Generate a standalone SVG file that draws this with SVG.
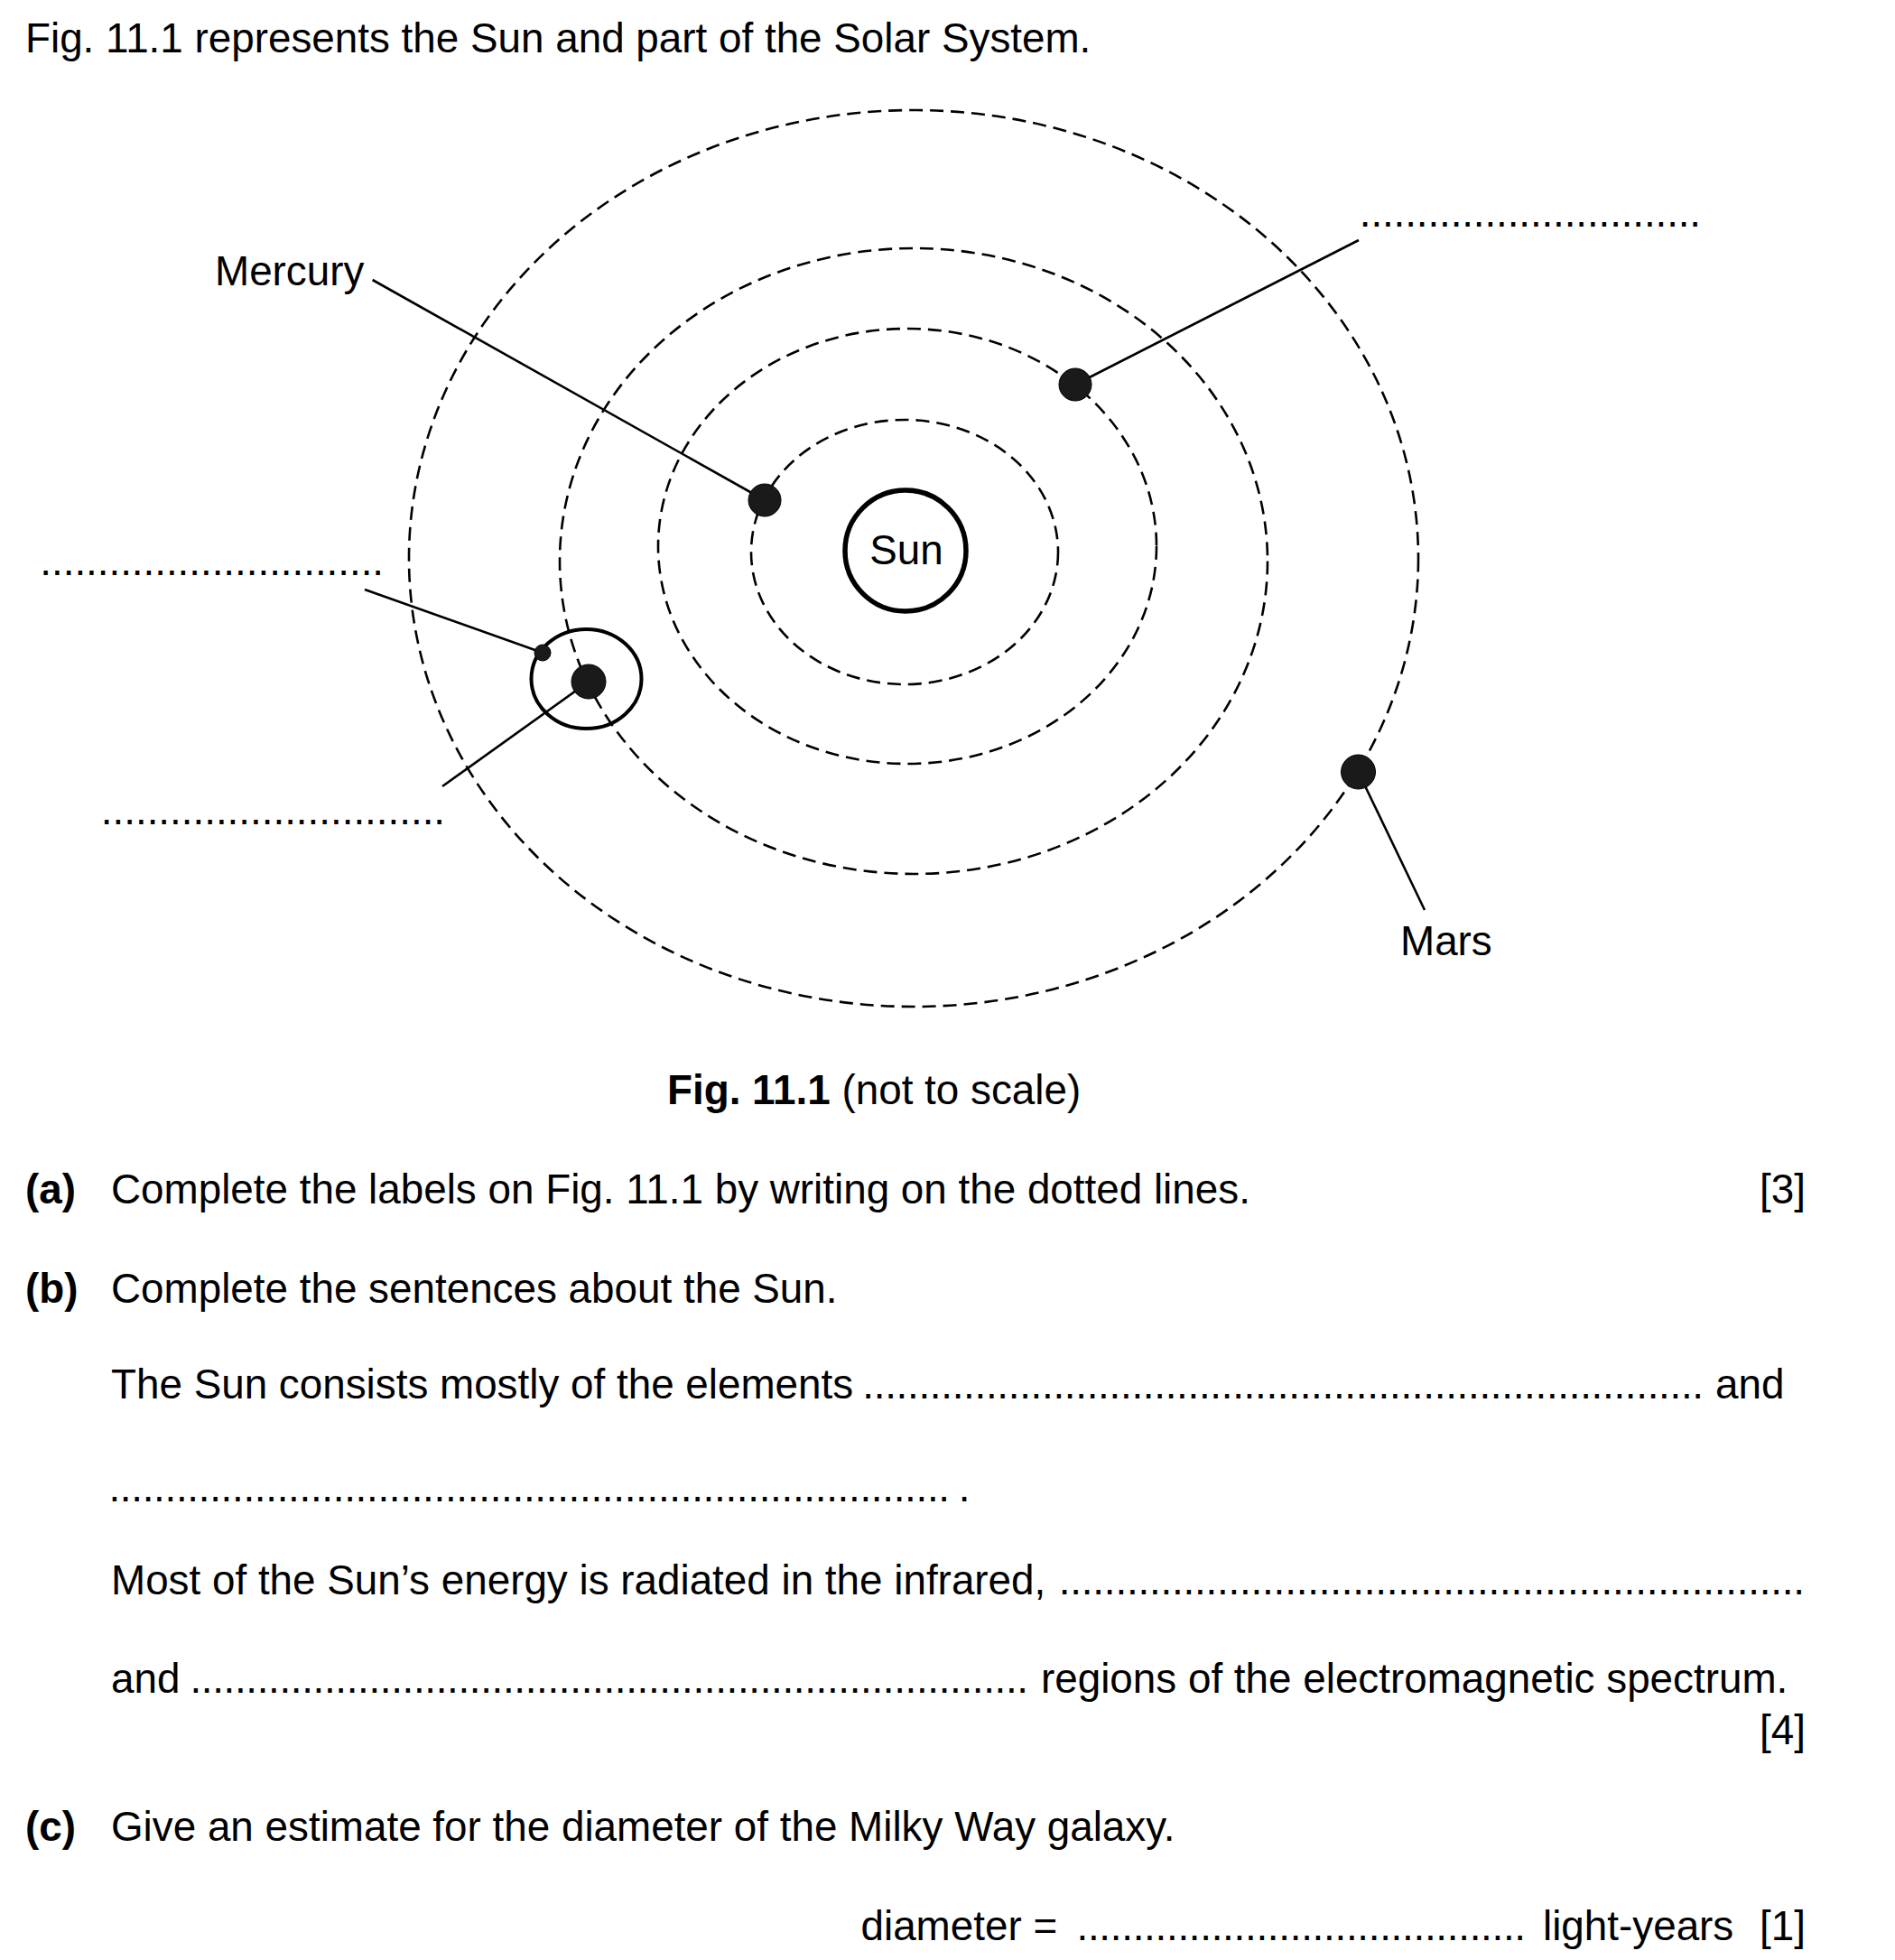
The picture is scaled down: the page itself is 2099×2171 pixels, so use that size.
<svg xmlns="http://www.w3.org/2000/svg" width="2099" height="2171" viewBox="0 0 2099 2171">
<style>
text{font-family:"Liberation Sans",Arial,sans-serif;font-size:45.8px;fill:#000}
.b{font-weight:bold}
.orbit{fill:none;stroke:#000;stroke-width:2.6;stroke-dasharray:15 8}
.lead{stroke:#000;stroke-width:2.6;fill:none}
.planet{fill:#1a1a1a;stroke:#000;stroke-width:1}
</style>
<rect width="2099" height="2171" fill="#fff"/>
<text x="28" y="58">Fig. 11.1 represents the Sun and part of the Solar System.</text>

<g id="orbits">
<ellipse id="orbit-mercury" class="orbit" cx="1002" cy="611.5" rx="170" ry="146.5"/>
<ellipse id="orbit-venus" class="orbit" cx="1005" cy="605" rx="276" ry="241"/>
<ellipse id="orbit-earth" class="orbit" cx="1012" cy="621.5" rx="392" ry="346.5"/>
<ellipse id="orbit-mars" class="orbit" cx="1012" cy="618.5" rx="559" ry="496.5"/>
</g>

<g id="connectors">
<line class="lead" x1="412.6" y1="310" x2="847" y2="554"/>
<line class="lead" x1="1191" y1="426" x2="1505" y2="266"/>
<line class="lead" x1="404" y1="653" x2="601" y2="723"/>
<line class="lead" x1="490" y1="871" x2="652" y2="755"/>
<line class="lead" x1="1504.5" y1="855" x2="1578" y2="1008"/>
</g>

<g id="sun">
<circle cx="1003" cy="610" r="67" fill="#fff" stroke="#000" stroke-width="5.5"/>
<text x="1004" y="625" text-anchor="middle">Sun</text>
</g>
<g id="mercury"><circle class="planet" cx="847" cy="554" r="18"/></g>
<g id="venus"><circle class="planet" cx="1191" cy="426" r="18"/></g>
<g id="earth">
<ellipse cx="649.5" cy="752" rx="61" ry="55" fill="none" stroke="#000" stroke-width="4"/>
<circle class="planet" cx="652" cy="755" r="19"/>
</g>
<g id="moon"><circle class="planet" cx="601" cy="723" r="9"/></g>
<g id="mars"><circle class="planet" cx="1504.5" cy="855" r="19"/></g>

<g id="labels">
<text x="238" y="316">Mercury</text>
<text x="1551" y="1058">Mars</text>
<text x="1505.8" y="250.5" textLength="378.3" lengthAdjust="spacing">..............................</text>
<text x="44.3" y="637" textLength="380.8" lengthAdjust="spacing">..............................</text>
<text x="111.8" y="912.5" textLength="381.3" lengthAdjust="spacing">..............................</text>
</g>

<text x="739" y="1223"><tspan class="b">Fig. 11.1</tspan> (not to scale)</text>

<text class="b" x="28" y="1333">(a)</text>
<text x="123" y="1333">Complete the labels on Fig. 11.1 by writing on the dotted lines.</text>
<text x="2000" y="1333" text-anchor="end">[3]</text>

<text class="b" x="28" y="1443">(b)</text>
<text x="123" y="1443">Complete the sentences about the Sun.</text>

<text x="123" y="1549">The Sun consists mostly of the elements</text>
<text x="955.3" y="1549" textLength="931.8" lengthAdjust="spacing">...........................................................................</text>
<text x="1900" y="1549">and</text>

<text x="120.4" y="1663" textLength="931.7" lengthAdjust="spacing">...........................................................................</text>
<text x="1061.8" y="1663">.</text>

<text x="123" y="1766">Most of the Sun’s energy is radiated in the infrared,</text>
<text x="1172.8" y="1766" textLength="826.3" lengthAdjust="spacing">..................................................................</text>

<text x="123" y="1875">and</text>
<text x="210.4" y="1875" textLength="928.7" lengthAdjust="spacing">...........................................................................</text>
<text x="1153" y="1875">regions of the electromagnetic spectrum.</text>
<text x="2000" y="1932" text-anchor="end">[4]</text>

<text class="b" x="28" y="2039">(c)</text>
<text x="123" y="2039">Give an estimate for the diameter of the Milky Way galaxy.</text>

<text x="953.5" y="2149">diameter =</text>
<text x="1192.5" y="2149" textLength="497.6" lengthAdjust="spacing">........................................</text>
<text x="1709" y="2149">light-years</text>
<text x="2000" y="2149" text-anchor="end">[1]</text>
</svg>
